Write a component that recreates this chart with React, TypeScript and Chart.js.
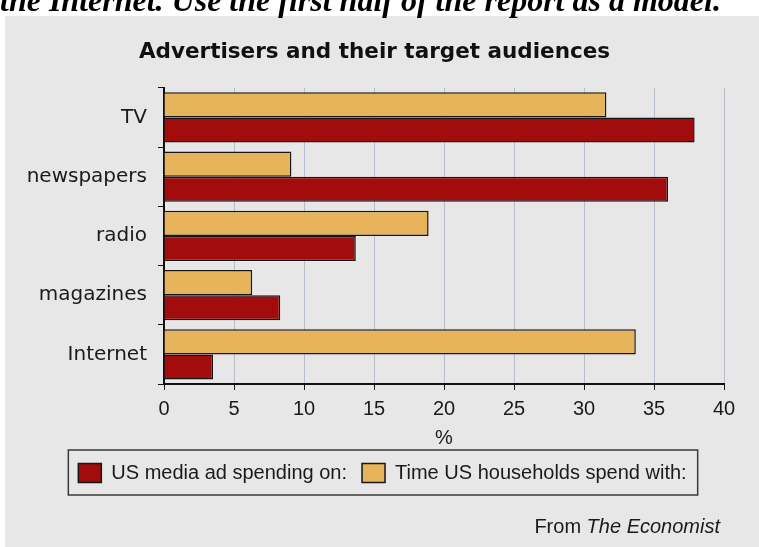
import React, { useEffect, useRef } from "react";
import { Chart, registerables } from "chart.js";

Chart.register(...registerables);

const categories = ["TV", "newspapers", "radio", "magazines", "Internet"];
const householdTime = [31.6, 9.1, 18.9, 6.3, 33.7];
const adSpending = [37.9, 36.0, 13.7, 8.3, 3.5];
const seriesLabels = ["Time US households spend with:", "US media ad spending on:"];
const chartTitle = "Advertisers and their target audiences";
const xAxisTitle = "%";
const xMin = 0;
const xMax = 40;
const xStep = 5;
const headerText = "the Internet. Use the first half of the report as a model.";
const sourcePrefix = "From ";
const sourceName = "The Economist";

const TAN = "#e7b45c";
const RED = "#a20c0c";
const LEGEND_SHIFT = 8;

const legendShift = {
  id: "legendShift",
  afterUpdate(chart: any) {
    const lg = chart.legend;
    if (!lg) return;
    lg.left += LEGEND_SHIFT;
    lg.right += LEGEND_SHIFT;
    (lg.legendHitBoxes || []).forEach((h: any) => {
      h.left += LEGEND_SHIFT;
    });
  },
};

const legendFrame = {
  id: "legendFrame",
  afterDraw(chart: any) {
    const lg = chart.legend;
    if (!lg || !lg.legendHitBoxes || !lg.legendHitBoxes.length) return;
    const hb = lg.legendHitBoxes;
    const l = Math.min(...hb.map((h: any) => h.left)) - 10;
    const r = Math.max(...hb.map((h: any) => h.left + h.width)) + 11;
    const t = Math.min(...hb.map((h: any) => h.top)) - 13;
    const b = Math.max(...hb.map((h: any) => h.top + h.height)) + 12;
    const ctx = chart.ctx;
    ctx.save();
    ctx.strokeStyle = "#3a3a3a";
    ctx.lineWidth = 1.5;
    ctx.strokeRect(l, t, r - l, b - t);
    ctx.restore();
  },
};

export default function App() {
  const ref = useRef<HTMLCanvasElement>(null);
  useEffect(() => {
    if (!ref.current) return;
    const chart = new Chart(ref.current, {
      type: "bar",
      data: {
        labels: categories,
        datasets: [
          {
            label: seriesLabels[0],
            data: householdTime,
            backgroundColor: TAN,
            borderColor: "#161616",
            borderWidth: 1.5,
            barPercentage: 1.0,
            categoryPercentage: 0.85,
          },
          {
            label: seriesLabels[1],
            data: adSpending,
            backgroundColor: RED,
            borderColor: "#161616",
            borderWidth: 1.5,
            barPercentage: 1.0,
            categoryPercentage: 0.85,
          },
        ],
      },
      options: {
        indexAxis: "y",
        animation: false,
        responsive: false,
        maintainAspectRatio: false,
        layout: { padding: { left: 20, right: 35, top: 0, bottom: 54 } },
        plugins: {
          title: {
            display: true,
            text: chartTitle,
            color: "#111",
            font: { family: "'DejaVu Sans'", size: 21.5, weight: "bold" },
            padding: { top: 24, bottom: 22 },
          },
          legend: {
            position: "bottom",
            reverse: true,
            labels: {
              color: "#1a1a1a",
              font: { family: "'Liberation Sans'", size: 20 },
              boxWidth: 23,
              boxHeight: 19,
              padding: 15,
            },
          },
          tooltip: { enabled: false },
        },
        scales: {
          x: {
            min: xMin,
            max: xMax,
            ticks: {
              stepSize: xStep,
              color: "#1a1a1a",
              font: { family: "'Liberation Sans'", size: 20 },
              padding: 7,
            },
            grid: {
              color: "rgba(150,163,184,0.6)",
              lineWidth: 1,
              tickColor: "#111",
              tickLength: 6,
              drawTicks: true,
            },
            border: { color: "#111", width: 2 },
            title: {
              display: true,
              text: xAxisTitle,
              color: "#1a1a1a",
              font: { family: "'Liberation Sans'", size: 20, lineHeight: 1.0 },
              padding: { top: 0, bottom: 0 },
            },
          },
          y: {
            ticks: {
              color: "#1a1a1a",
              font: { family: "'DejaVu Sans'", size: 20 },
              padding: 11,
            },
            grid: {
              drawOnChartArea: false,
              drawTicks: true,
              tickLength: 6,
              tickColor: "#111",
              offset: true,
            },
            border: { color: "#111", width: 2 },
            afterFit: (scale: any) => {
              scale.width = 139;
            },
          },
        },
      },
      plugins: [legendShift, legendFrame],
    });
    return () => chart.destroy();
  }, []);

  return (
    <div
      style={{
        position: "fixed",
        left: 0,
        top: 0,
        width: 759,
        height: 547,
        background: "#ffffff",
        overflow: "hidden",
      }}
    >
      <div
        style={{
          position: "absolute",
          left: 5,
          top: 16,
          width: 754,
          height: 531,
          background: "#e7e7e7",
        }}
      >
        <canvas ref={ref} width={754} height={531} style={{ display: "block" }} />
      </div>
      <div
        style={{
          position: "absolute",
          left: 0,
          top: -16,
          whiteSpace: "nowrap",
          fontFamily: "'Liberation Serif', serif",
          fontWeight: "bold",
          fontStyle: "italic",
          fontSize: 32,
          lineHeight: "32px",
          color: "#000",
        }}
      >
        {headerText}
      </div>
      <div
        style={{
          position: "absolute",
          right: 39,
          top: 514,
          whiteSpace: "nowrap",
          fontFamily: "'Liberation Sans', sans-serif",
          fontSize: 20,
          lineHeight: "24px",
          color: "#1a1a1a",
        }}
      >
        {sourcePrefix}
        <i>{sourceName}</i>
      </div>
    </div>
  );
}
